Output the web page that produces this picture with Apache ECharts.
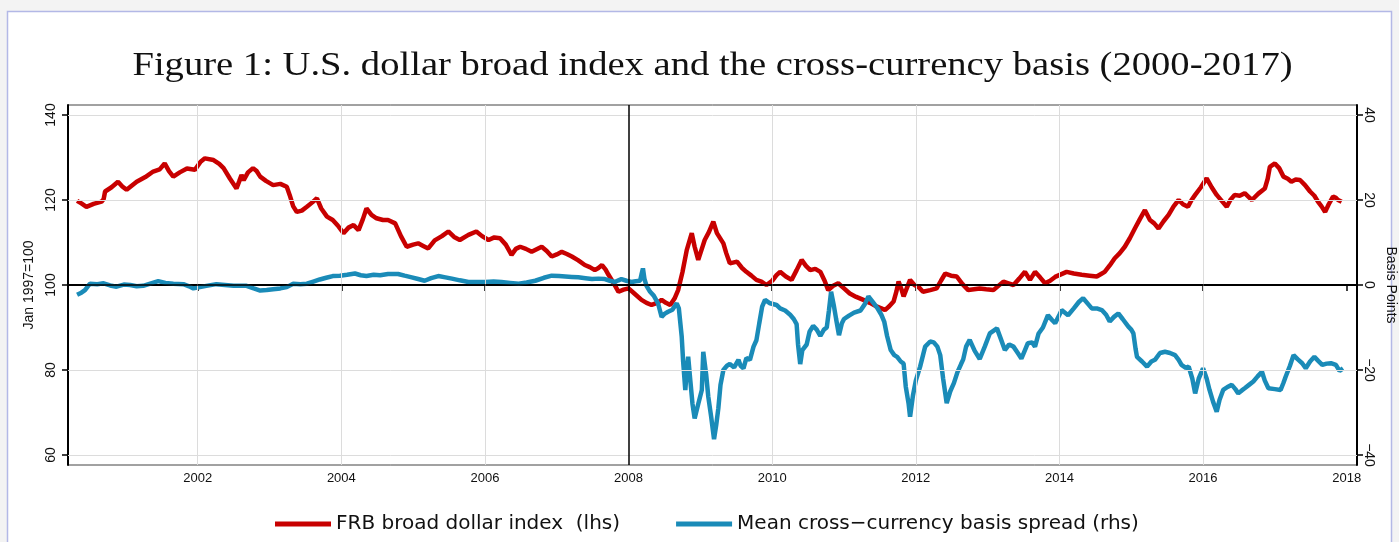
<!DOCTYPE html>
<html>
<head>
<meta charset="utf-8">
<script src="https://cdn.jsdelivr.net/npm/echarts@6/dist/echarts.min.js"></script>
<style>
html,body{margin:0;padding:0;background:#f3f3f3;overflow:hidden;}
#chart{width:1399px;height:542px;}
</style>
</head>
<body>
<div id="chart"></div>
<script>
// ---- Data ----
const titleText = "Figure 1: U.S. dollar broad index and the cross-currency basis (2000-2017)";
const xTicks = [2002, 2004, 2006, 2008, 2010, 2012, 2014, 2016, 2018];
const leftTicks = [60, 80, 100, 120, 140];
const rightTicks = [-40, -20, 0, 20, 40];

const redYears = [2000.32,2000.38,2000.45,2000.55,2000.66,2000.69,2000.71,2000.80,2000.89,2000.95,2001.01,2001.15,2001.27,2001.38,2001.47,2001.54,2001.60,2001.66,2001.75,2001.85,2001.96,2002.04,2002.10,2002.22,2002.30,2002.36,2002.45,2002.54,2002.58,2002.61,2002.64,2002.70,2002.77,2002.82,2002.87,2002.95,2003.05,2003.15,2003.24,2003.28,2003.33,2003.38,2003.45,2003.52,2003.60,2003.66,2003.72,2003.80,2003.88,2003.95,2004.03,2004.10,2004.17,2004.24,2004.30,2004.35,2004.42,2004.49,2004.58,2004.65,2004.75,2004.83,2004.91,2005.00,2005.07,2005.14,2005.21,2005.30,2005.40,2005.49,2005.57,2005.65,2005.77,2005.88,2005.96,2006.05,2006.13,2006.21,2006.29,2006.37,2006.43,2006.49,2006.57,2006.65,2006.72,2006.79,2006.86,2006.93,2007.00,2007.07,2007.14,2007.21,2007.30,2007.39,2007.46,2007.53,2007.58,2007.63,2007.68,2007.72,2007.78,2007.86,2007.93,2008.00,2008.08,2008.18,2008.25,2008.32,2008.40,2008.46,2008.52,2008.58,2008.64,2008.69,2008.75,2008.81,2008.85,2008.88,2008.92,2008.97,2009.02,2009.06,2009.12,2009.18,2009.23,2009.32,2009.36,2009.41,2009.51,2009.58,2009.64,2009.71,2009.78,2009.85,2009.92,2010.00,2010.06,2010.11,2010.19,2010.27,2010.34,2010.41,2010.47,2010.53,2010.60,2010.67,2010.73,2010.78,2010.85,2010.92,2011.00,2011.08,2011.17,2011.27,2011.36,2011.46,2011.52,2011.57,2011.63,2011.69,2011.73,2011.76,2011.80,2011.83,2011.88,2011.92,2011.98,2012.04,2012.10,2012.20,2012.29,2012.35,2012.41,2012.49,2012.57,2012.65,2012.73,2012.81,2012.89,2012.98,2013.08,2013.15,2013.22,2013.29,2013.36,2013.44,2013.52,2013.59,2013.66,2013.73,2013.80,2013.87,2013.94,2014.02,2014.10,2014.20,2014.31,2014.42,2014.52,2014.58,2014.63,2014.70,2014.77,2014.84,2014.91,2014.98,2015.05,2015.12,2015.19,2015.26,2015.32,2015.38,2015.45,2015.52,2015.59,2015.66,2015.72,2015.79,2015.84,2015.89,2015.97,2016.05,2016.12,2016.19,2016.26,2016.33,2016.38,2016.44,2016.51,2016.58,2016.63,2016.68,2016.77,2016.86,2016.90,2016.93,2017.00,2017.06,2017.12,2017.18,2017.23,2017.29,2017.35,2017.42,2017.49,2017.55,2017.60,2017.65,2017.70,2017.75,2017.81,2017.85,2017.88,2017.93];
const redValues = [119.8,119.2,118.4,119.1,119.6,120.2,122.0,123.0,124.3,123.2,122.4,124.3,125.4,126.7,127.2,128.6,126.8,125.5,126.5,127.4,127.1,129.0,129.8,129.4,128.5,127.5,125.0,122.7,124.5,125.9,124.7,126.5,127.5,126.8,125.5,124.5,123.5,123.8,123.1,121.2,118.5,117.2,117.5,118.4,119.5,120.4,118.0,116.1,115.3,114.0,112.2,113.5,114.1,112.9,115.5,118.0,116.5,115.7,115.3,115.3,114.5,111.5,109.0,109.5,109.8,109.2,108.6,110.5,111.5,112.6,111.3,110.6,111.8,112.6,111.5,110.6,111.2,111.0,109.5,107.1,108.5,109.0,108.5,107.8,108.4,109.0,108.0,106.7,107.2,107.8,107.3,106.7,105.8,104.7,104.2,103.5,104.0,104.7,103.6,102.4,100.8,98.4,98.9,99.2,98.0,96.5,95.8,95.3,95.8,96.5,95.8,95.3,96.8,98.8,103.0,108.2,110.5,112.2,109.0,105.9,108.5,110.6,112.5,114.9,112.2,109.8,107.5,105.1,105.5,104.0,103.1,102.2,101.2,100.8,100.0,101.0,102.3,103.1,102.0,101.2,103.5,105.9,104.5,103.5,103.8,103.1,101.0,98.8,99.8,100.4,99.2,98.0,97.2,96.5,95.8,94.9,94.5,94.1,95.0,96.1,98.5,100.8,99.0,97.3,99.5,101.2,100.0,99.5,98.4,98.8,99.2,101.0,102.7,102.2,102.0,100.2,98.8,99.0,99.2,99.0,98.8,99.8,100.8,100.4,100.0,101.5,103.1,101.2,103.1,101.8,100.4,101.0,101.9,102.5,103.1,102.7,102.4,102.2,102.0,102.6,103.1,104.6,106.3,107.5,109.0,111.0,113.3,115.5,117.6,115.3,114.5,113.3,115.0,116.5,118.5,120.0,119.0,118.4,120.0,121.2,123.0,125.1,123.0,121.2,119.8,118.4,120.0,121.2,121.0,121.6,120.8,120.0,121.5,122.7,125.0,127.8,128.6,127.5,125.5,125.0,124.3,124.8,124.7,123.5,122.0,121.0,119.6,118.5,117.2,119.0,120.8,120.5,120.0,119.6];

const blueYears = [2000.32,2000.38,2000.43,2000.47,2000.50,2000.60,2000.69,2000.78,2000.87,2000.97,2001.06,2001.15,2001.24,2001.35,2001.45,2001.55,2001.66,2001.80,2001.88,2001.94,2002.03,2002.12,2002.26,2002.38,2002.50,2002.68,2002.78,2002.87,2002.96,2003.05,2003.15,2003.24,2003.33,2003.43,2003.52,2003.61,2003.70,2003.79,2003.88,2003.98,2004.08,2004.19,2004.27,2004.35,2004.45,2004.54,2004.65,2004.79,2004.88,2004.98,2005.07,2005.16,2005.25,2005.35,2005.45,2005.54,2005.65,2005.77,2005.88,2006.00,2006.12,2006.23,2006.35,2006.47,2006.58,2006.70,2006.82,2006.93,2007.03,2007.12,2007.21,2007.30,2007.40,2007.49,2007.58,2007.67,2007.74,2007.81,2007.86,2007.90,2007.97,2008.04,2008.10,2008.16,2008.18,2008.20,2008.22,2008.25,2008.30,2008.35,2008.41,2008.46,2008.50,2008.55,2008.61,2008.67,2008.70,2008.74,2008.76,2008.79,2008.81,2008.83,2008.86,2008.89,2008.92,2008.97,2009.02,2009.04,2009.08,2009.11,2009.15,2009.19,2009.22,2009.25,2009.28,2009.32,2009.37,2009.41,2009.47,2009.53,2009.56,2009.60,2009.64,2009.69,2009.74,2009.78,2009.82,2009.86,2009.90,2009.97,2010.06,2010.11,2010.18,2010.25,2010.30,2010.34,2010.36,2010.39,2010.42,2010.48,2010.52,2010.57,2010.62,2010.67,2010.72,2010.76,2010.79,2010.82,2010.86,2010.89,2010.93,2010.97,2011.00,2011.07,2011.14,2011.23,2011.29,2011.34,2011.40,2011.46,2011.52,2011.56,2011.60,2011.65,2011.70,2011.74,2011.79,2011.83,2011.86,2011.90,2011.92,2011.96,2012.00,2012.06,2012.13,2012.20,2012.25,2012.30,2012.34,2012.38,2012.43,2012.48,2012.53,2012.58,2012.63,2012.66,2012.70,2012.75,2012.82,2012.89,2012.96,2013.03,2013.13,2013.18,2013.24,2013.30,2013.36,2013.42,2013.47,2013.52,2013.56,2013.62,2013.66,2013.71,2013.77,2013.84,2013.90,2013.94,2014.00,2014.03,2014.12,2014.20,2014.27,2014.33,2014.40,2014.45,2014.52,2014.59,2014.65,2014.70,2014.76,2014.82,2014.88,2014.96,2015.00,2015.03,2015.06,2015.08,2015.15,2015.22,2015.28,2015.33,2015.40,2015.47,2015.54,2015.61,2015.66,2015.70,2015.76,2015.80,2015.85,2015.89,2015.94,2016.00,2016.05,2016.09,2016.14,2016.19,2016.23,2016.28,2016.34,2016.40,2016.45,2016.49,2016.54,2016.58,2016.64,2016.70,2016.76,2016.82,2016.86,2016.91,2017.00,2017.08,2017.12,2017.15,2017.21,2017.26,2017.32,2017.38,2017.43,2017.49,2017.55,2017.60,2017.66,2017.72,2017.78,2017.85,2017.90,2017.92,2017.95];
const blueValues = [-2.3,-1.8,-1.2,-0.3,0.3,0.2,0.4,-0.1,-0.4,0.1,0.0,-0.3,-0.2,0.4,0.9,0.5,0.3,0.2,-0.3,-0.8,-0.5,-0.2,0.2,0.0,-0.2,-0.2,-0.8,-1.3,-1.2,-1.0,-0.8,-0.5,0.3,0.2,0.3,0.8,1.3,1.7,2.1,2.2,2.4,2.7,2.3,2.1,2.4,2.3,2.6,2.6,2.2,1.8,1.4,1.0,1.6,2.1,1.8,1.5,1.1,0.7,0.7,0.7,0.8,0.7,0.5,0.3,0.6,1.0,1.7,2.2,2.1,2.0,1.9,1.8,1.6,1.4,1.5,1.4,1.0,0.7,1.1,1.4,1.0,0.7,0.9,1.0,2.5,3.9,1.5,-0.2,-1.6,-2.5,-4.3,-7.5,-6.8,-6.3,-5.8,-4.3,-5.5,-12.2,-18.0,-24.7,-20.0,-16.9,-22.5,-28.0,-31.4,-28.0,-24.7,-15.7,-21.0,-26.3,-31.0,-36.3,-33.0,-29.0,-23.5,-20.0,-19.0,-18.6,-19.4,-17.6,-19.0,-19.6,-17.2,-17.6,-14.5,-13.0,-9.0,-5.1,-3.5,-4.3,-4.7,-5.5,-6.0,-7.0,-8.0,-9.2,-14.0,-18.6,-15.3,-14.0,-11.0,-9.6,-10.5,-12.0,-10.5,-10.0,-6.0,-1.6,-5.0,-8.0,-11.8,-9.0,-8.0,-7.2,-6.5,-6.0,-4.5,-2.7,-4.0,-5.3,-7.0,-8.6,-12.0,-15.3,-16.5,-16.9,-18.0,-18.5,-23.9,-28.0,-31.0,-26.0,-22.5,-19.2,-14.5,-13.3,-13.5,-14.5,-16.5,-22.0,-27.8,-25.0,-23.1,-20.5,-18.6,-17.5,-14.5,-12.9,-15.5,-17.4,-14.5,-11.4,-10.2,-12.5,-15.3,-14.0,-14.5,-16.0,-17.3,-15.3,-13.7,-13.5,-14.5,-11.4,-10.0,-7.1,-8.3,-9.0,-7.0,-5.9,-7.1,-5.5,-4.0,-3.1,-4.5,-5.5,-5.5,-5.9,-7.0,-8.6,-7.5,-6.7,-8.0,-9.8,-10.5,-11.4,-15.0,-16.9,-18.0,-19.2,-18.0,-17.6,-16.0,-15.7,-16.0,-16.5,-17.6,-18.8,-19.5,-19.2,-22.0,-25.5,-22.0,-19.6,-22.0,-24.7,-27.5,-29.8,-27.0,-24.7,-24.0,-23.5,-24.5,-25.5,-24.8,-24.3,-23.5,-22.7,-21.5,-20.4,-22.5,-24.3,-24.5,-24.7,-23.0,-21.6,-19.0,-16.5,-17.5,-18.4,-19.6,-18.0,-16.9,-17.8,-18.8,-18.5,-18.4,-18.8,-20.2,-20.4,-19.6];

const seriesNames = ["FRB broad dollar index  (lhs)", "Mean cross\u2212currency basis spread (rhs)"];
const leftAxisName = "Jan 1997=100";
const rightAxisName = "Basis Points";

// ---- Layout (pixels) ----
const G = {left: 68, right: 1357, top: 105, bottom: 465};
const pxPerUnit = 4.25;
const pxPerYear = 71.81;
const x2000 = 54.1;
const xMin = 2000 + (G.left - x2000) / pxPerYear;
const xMax = 2000 + (G.right - x2000) / pxPerYear;
const yPad = 10 / pxPerUnit;
const lMin = 60 - yPad, lMax = 140 + yPad;
const rMin = -40 - yPad, rMax = 40 + yPad;

const RED = '#c80000', BLUE = '#1a8bb8';
const SANS = 'Liberation Sans, Arial, sans-serif';

const chart = echarts.init(document.getElementById('chart'), null, {renderer: 'canvas'});

const gridX = xTicks.filter(v => v !== 2008 && v !== 2018);
const gridY = leftTicks.filter(v => v !== 100);

const option = {
  backgroundColor: 'transparent',
  animation: false,
  graphic: [
    {type: 'rect', shape: {x: 7.5, y: 11.5, width: 1384, height: 540},
     style: {fill: '#ffffff', stroke: '#b3b8e6', lineWidth: 1.5}, z: -10, silent: true},
    {type: 'text', x: (G.left + G.right) / 2, y: 66, scaleX: 1.17, silent: true,
     style: {text: titleText, font: 'normal 33px "Liberation Serif", serif', fill: '#111',
             align: 'center', verticalAlign: 'middle', textAlign: 'center', textVerticalAlign: 'middle'}}
  ],
  legend: {
    left: 270, top: 509, icon: 'rect', itemWidth: 56, itemHeight: 5, itemGap: 56,
    textStyle: {fontFamily: 'DejaVu Sans, sans-serif', fontSize: 20, color: '#111'},
    data: seriesNames
  },
  grid: {left: G.left, right: 1399 - G.right, top: G.top, bottom: 542 - G.bottom,
         outerBoundsMode: 'none', containLabel: false,
         show: true, borderColor: '#444', borderWidth: 1, backgroundColor: '#fff'},
  xAxis: {
    type: 'value', min: xMin, max: xMax,
    axisLine: {show: true, lineStyle: {color: '#000', width: 2}},
    axisTick: {show: true, customValues: xTicks, length: 6, lineStyle: {color: '#000', width: 1.5}},
    axisLabel: {customValues: xTicks, fontFamily: SANS, fontSize: 13, color: '#111', margin: 7,
                formatter: v => String(v)},
    splitLine: {show: false}
  },
  yAxis: [
    {
      type: 'value', min: lMin, max: lMax, position: 'left',
      name: leftAxisName, nameLocation: 'middle', nameRotate: 90, nameGap: 32,
      nameTextStyle: {fontFamily: SANS, fontSize: 14, color: '#111'},
      axisLine: {show: true, lineStyle: {color: '#000', width: 2}},
      axisTick: {show: true, customValues: leftTicks, length: 6, lineStyle: {color: '#000', width: 1.5}},
      axisLabel: {customValues: leftTicks, rotate: 90, fontFamily: SANS, fontSize: 14, color: '#111', margin: 10,
                  formatter: v => String(v)},
      splitLine: {show: false}
    },
    {
      type: 'value', min: rMin, max: rMax, position: 'right',
      name: rightAxisName, nameLocation: 'middle', nameRotate: -90, nameGap: 26,
      nameTextStyle: {fontFamily: SANS, fontSize: 14, color: '#111'},
      axisLine: {show: true, lineStyle: {color: '#000', width: 2}},
      axisTick: {show: true, customValues: rightTicks, length: 6, lineStyle: {color: '#000', width: 1.5}},
      axisLabel: {customValues: rightTicks, rotate: -90, fontFamily: SANS, fontSize: 14, color: '#111', margin: 5,
                  formatter: v => String(v).replace('-', '\u2212')},
      splitLine: {show: false}
    }
  ],
  series: [
    {
      name: 'grid', type: 'line', data: [], yAxisIndex: 0, z: 1, silent: true,
      markLine: {
        silent: true, symbol: 'none', label: {show: false}, animation: false,
        lineStyle: {color: '#dcdcdc', width: 1, type: 'solid'},
        data: gridX.map(v => ({xAxis: v})).concat(gridY.map(v => ({yAxis: v})))
      }
    },
    {
      name: 'ref', type: 'line', data: [], yAxisIndex: 0, z: 1, silent: true,
      markLine: {
        silent: true, symbol: 'none', label: {show: false}, animation: false,
        lineStyle: {color: '#000', width: 1.5, type: 'solid'},
        data: [{xAxis: 2008}, {yAxis: 100}]
      }
    },
    {
      name: seriesNames[0], type: 'line', yAxisIndex: 0, z: 3,
      showSymbol: false, symbol: 'none',
      lineStyle: {color: RED, width: 4.5}, itemStyle: {color: RED},
      data: redYears.map((t, i) => [t, redValues[i]])
    },
    {
      name: seriesNames[1], type: 'line', yAxisIndex: 1, z: 4,
      showSymbol: false, symbol: 'none',
      lineStyle: {color: BLUE, width: 4.5}, itemStyle: {color: BLUE},
      data: blueYears.map((t, i) => [t, blueValues[i]])
    }
  ]
};
chart.setOption(option);
</script>
</body>
</html>
